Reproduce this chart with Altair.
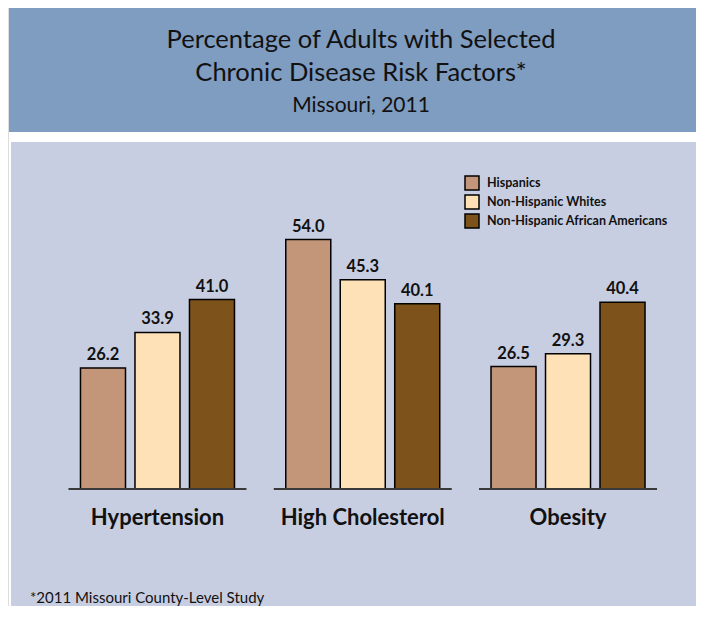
import altair as alt
import pandas as pd

categories = ["Hypertension", "High Cholesterol", "Obesity"]
groups = ["Hispanics", "Non-Hispanic Whites", "Non-Hispanic African Americans"]
hispanics = [26.2, 54.0, 26.5]
whites = [33.9, 45.3, 29.3]
african_americans = [41.0, 40.1, 40.4]
group_colors = ["#c49679", "#ffe1b7", "#7d531b"]

title_lines = ["Percentage of Adults with Selected", "Chronic Disease Risk Factors*"]
subtitle = "Missouri, 2011"
footnote = "*2011 Missouri County-Level Study"

FONT = "Lato"

rows = []
for i, c in enumerate(categories):
    for g, vals in zip(groups, [hispanics, whites, african_americans]):
        rows.append({"cat": c, "group": g, "value": vals[i]})
df = pd.DataFrame(rows)
cat_df = pd.DataFrame({"cat": categories})

W, H = 688, 598

xscale = alt.Scale(domain=categories, range=[60.5, 649], paddingInner=0.133, paddingOuter=0)
xoff = alt.XOffset("group:N", sort=groups,
                   scale=alt.Scale(domain=groups, paddingInner=0.174, paddingOuter=0.22))
yscale = alt.Scale(domain=[0, 100], range=[481, 19])

one = pd.DataFrame({"a": [0]})
title_box = alt.Chart(one).mark_rect(color="#7f9cc1").encode(
    x=alt.value(1), x2=alt.value(W), y=alt.value(0), y2=alt.value(124))
panel = alt.Chart(one).mark_rect(color="#c8cee2").encode(
    x=alt.value(3), x2=alt.value(W), y=alt.value(134), y2=alt.value(H))

def txt(s, x, y, size, align="center"):
    return alt.Chart(one).mark_text(font=FONT, fontSize=size, color="#111",
                                    baseline="alphabetic", align=align).encode(
        x=alt.value(x), y=alt.value(y), text=alt.value(s))

t1 = txt(title_lines[0], 353, 40.3, 25.5)
t2 = txt(title_lines[1], 353, 72.7, 25.5)
t3 = txt(subtitle, 353, 103.7, 21)
foot = txt(footnote, 22, 595.3, 15, align="left")

bars = alt.Chart(df).mark_bar(stroke="black", strokeWidth=1.5).encode(
    x=alt.X("cat:N", sort=categories, scale=xscale, axis=None),
    xOffset=xoff,
    y=alt.Y("value:Q", scale=yscale, axis=None),
    color=alt.Color("group:N", sort=groups,
                    scale=alt.Scale(domain=groups, range=group_colors),
                    legend=alt.Legend(orient="none", legendX=456, legendY=167, title=None,
                                      symbolType="square", symbolSize=196,
                                      symbolStrokeColor="black", symbolStrokeWidth=1.5,
                                      symbolOpacity=1, labelLimit=0,
                                      labelFont=FONT, labelFontSize=12.5, labelFontWeight="bold",
                                      labelColor="#111", labelOffset=7, rowPadding=-1,
                                      padding=0)),
)

labels = alt.Chart(df).mark_text(font=FONT, fontSize=16.5, fontWeight="bold", color="#111",
                                 baseline="alphabetic", dy=-8).encode(
    x=alt.X("cat:N", sort=categories, scale=xscale, axis=None),
    xOffset=xoff,
    y=alt.Y("value:Q", scale=yscale, axis=None),
    text=alt.Text("value:Q", format=".1f"),
)

baseline = alt.Chart(cat_df).mark_tick(orient="horizontal", size=178, thickness=2,
                                       color="#3a3a3a", opacity=1).encode(
    x=alt.X("cat:N", sort=categories, scale=xscale, axis=None),
    y=alt.Y(datum=0, scale=yscale, axis=None),
)

cat_labels = alt.Chart(cat_df).mark_text(font=FONT, fontSize=22, fontWeight="bold",
                                         color="#111", baseline="alphabetic").encode(
    x=alt.X("cat:N", sort=categories, scale=xscale, axis=None),
    y=alt.value(517),
    text="cat:N",
)

chart = alt.layer(title_box, panel, t1, t2, t3, foot, bars, baseline, labels, cat_labels).properties(
    width=W, height=H, autosize=alt.AutoSizeParams(type="none"),
    padding={"left": 0, "top": 0, "right": 0, "bottom": 0},
).configure_view(stroke=None).configure(background="white")

chart.save("out.html", embed_options={"renderer": "svg", "actions": False})
